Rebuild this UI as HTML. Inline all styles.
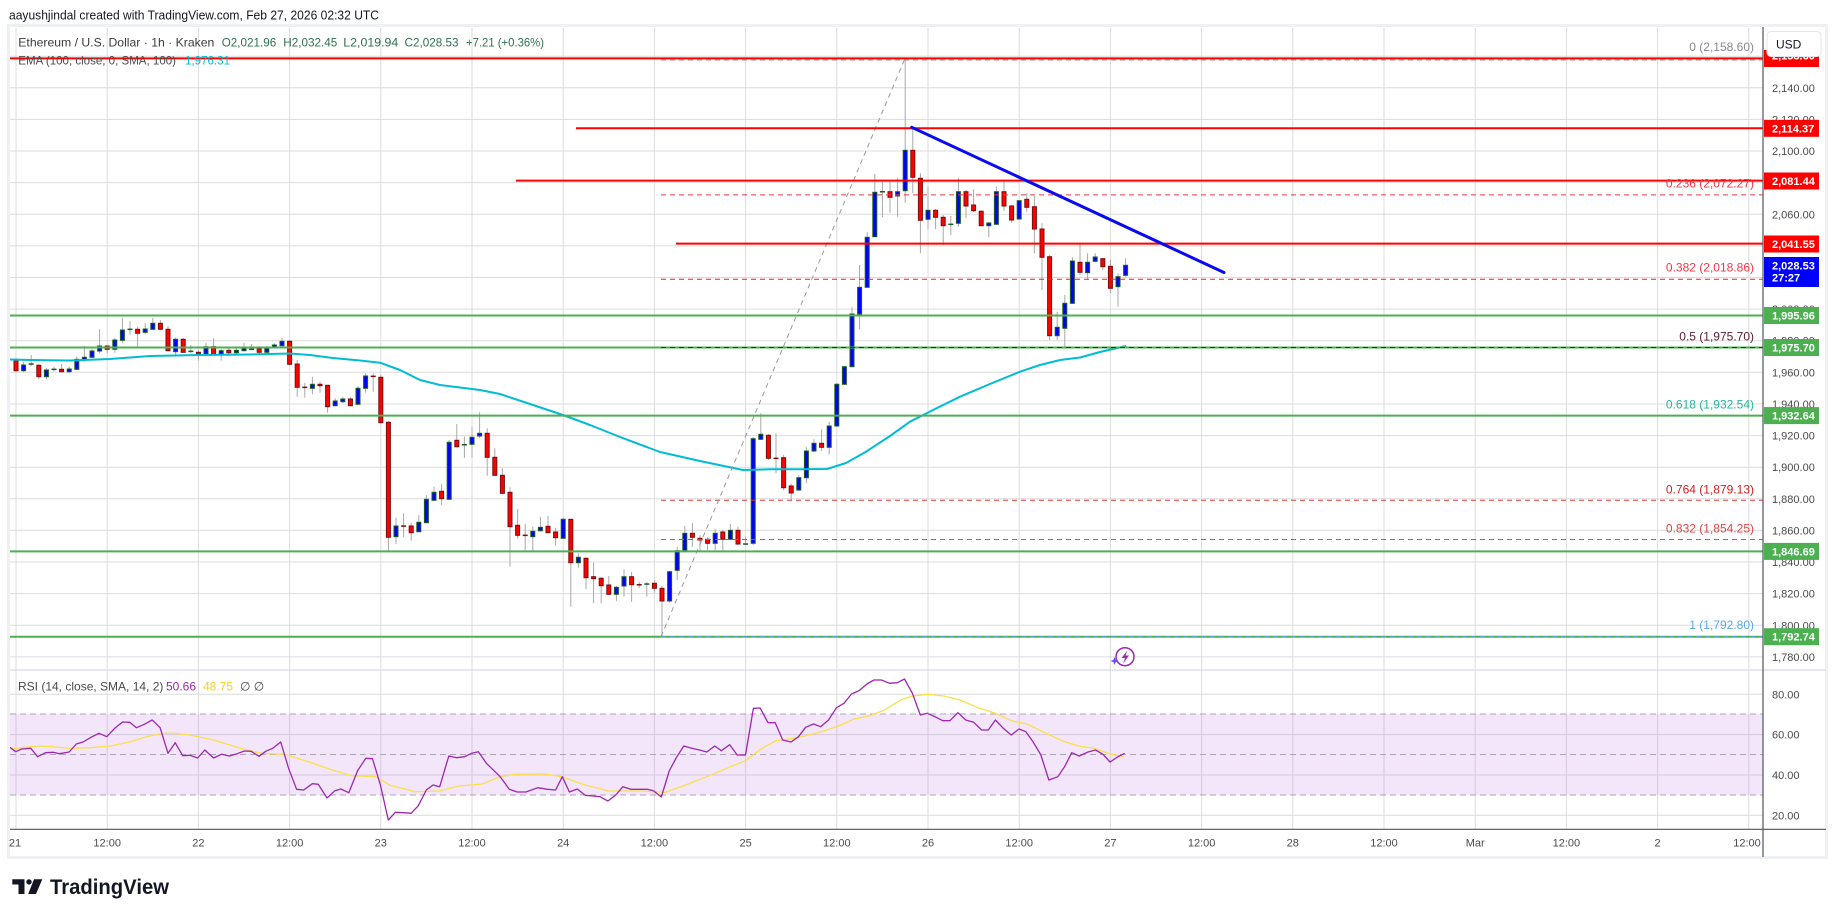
<!DOCTYPE html>
<html><head><meta charset="utf-8"><style>
html,body{margin:0;padding:0;background:#fff;width:1835px;height:917px;overflow:hidden}
svg{display:block}
text{font-family:"Liberation Sans",sans-serif}
</style></head><body>
<svg width="1835" height="917" viewBox="0 0 1835 917" xmlns="http://www.w3.org/2000/svg">
<defs>
<clipPath id="cp"><rect x="10" y="28" width="1753" height="642"/></clipPath>
<clipPath id="cr"><rect x="10" y="670" width="1753" height="159"/></clipPath>
</defs>
<rect width="1835" height="917" fill="#fff"/>
<text x="9" y="19.5" font-size="13" fill="#131722" textLength="370" lengthAdjust="spacingAndGlyphs">aayushjindal created with TradingView.com, Feb 27, 2026 02:32 UTC</text>
<!-- frame -->
<rect x="8.5" y="25.5" width="1818" height="832" fill="#fff" stroke="#eef0f3" stroke-width="3"/>

<!-- vertical grid -->
<g stroke="#dcdcdc" stroke-width="1">
<path d="M16 28V829M107.2 28V829M198.4 28V829M289.6 28V829M380.8 28V829M472 28V829M563.2 28V829M654.4 28V829M745.6 28V829M836.8 28V829M928 28V829M1019.2 28V829M1110.4 28V829M1201.6 28V829M1292.8 28V829M1384 28V829M1475.2 28V829M1566.4 28V829M1657.6 28V829M1748.8 28V829"/>
<path d="M10 56.2H1763M10 87.8H1763M10 119.4H1763M10 151H1763M10 182.6H1763M10 214.3H1763M10 245.9H1763M10 277.5H1763M10 309.1H1763M10 340.7H1763M10 372.3H1763M10 404H1763M10 435.6H1763M10 467.2H1763M10 498.8H1763M10 530.4H1763M10 562H1763M10 593.6H1763M10 625.3H1763M10 656.9H1763"/>
<path d="M10 694.3H1763M10 734.6H1763M10 775H1763M10 815.3H1763"/>
</g>

<!-- RSI pane -->
<line x1="10" y1="670" x2="1826" y2="670" stroke="#ddd8e6" stroke-width="1.2"/>
<rect x="10" y="714" width="1753" height="81" fill="rgba(180,100,230,0.16)"/>
<g stroke="#aba6b4" stroke-width="1" stroke-dasharray="6 4">
<path d="M10 714H1763M10 754.5H1763M10 795H1763"/>
</g>
<g clip-path="url(#cr)" fill="none" stroke-linejoin="round">
<polyline stroke="#fbe04a" stroke-width="1.3" points="9.9,749.3 23.7,747.3 39.5,746 51.4,746.7 71.2,748.3 91,747.7 110.7,746 130.5,741.7 146.3,736.7 162.1,733.3 174,733.3 189.8,735 213.5,740 237.2,747.3 261,753.3 284.7,754.3 308.4,761.7 332.1,770 351.9,775.7 375.6,776.7 389.5,785 415.2,791.7 438.9,791 458.7,786 482.4,784 498.2,777.3 514,774.3 545.7,774 561.5,776.7 585.2,785 608.9,791 639.5,791 665.2,792.3 683,786 706.8,776.7 730.5,766.7 745.5,760.7 762.1,748.3 776,740.7 797.7,737.7 821.4,731.7 841.2,725 853.1,719.3 868.9,716 884.7,710 900.5,700 912.4,696 928.2,694.3 944,696 959.8,700 979.6,708.3 995.4,713.3 1011.2,720.7 1027,724 1042.9,731.7 1062.6,741 1078.4,746 1094.3,748.3 1110.1,754 1123.9,756.7"/>
<polyline stroke="#9c27b0" stroke-width="1.3" points="9.9,747.3 15.8,751.7 21.7,749 30.8,748.3 37.6,756.7 45.5,752.7 53.4,752.3 59.3,753.7 69.2,752 76.3,744 83,742 91,737.3 98.9,733.3 106.8,736.7 114.7,728.3 122.6,722 129.7,722.3 136.4,727.7 144.3,724.3 152.2,720 160.1,727.7 168,753.3 175.2,742.7 182.7,755.7 189.8,755.3 197.7,758 204.8,750 213.5,758 221.4,754.3 229.3,756 237.2,753.7 244.4,751 251.1,751.3 259,756.3 265.7,751.3 272.8,748.3 280.7,742 288.6,768.3 296.6,789.3 303.7,790 312.4,783.7 318.3,784.3 327,798 334.9,790.7 340.8,789 348.8,792.7 357.8,770.3 365.8,758.3 372.5,758.7 380.4,785 388.3,820 395.4,812.3 403.3,812.7 411.2,813.3 418.3,805.7 426.3,790 433,785 439.7,786.7 448.8,756 456.7,757.7 464.6,756.7 471.7,753.3 478.4,751.7 486.4,763.3 500.2,776.7 509.3,789.3 517.2,792 525.9,792 537.8,787.7 547.6,789.3 555.6,790 562.3,776.7 569.4,792 577.3,789 585.2,795.3 593.1,796 600,796.7 607.9,801 615.8,795 622.9,786.7 630.8,789.3 639.5,789.3 647.4,789.3 653.4,790.7 661.3,797 669.2,771 676.3,757.7 683.8,746 691.7,748.3 699.6,750 706.8,752 714.7,746 721.4,750.7 729.7,744.7 737.2,755 745.5,755 753.4,708.3 760.1,708 768,722.7 775.2,722.7 782.7,740 791,742 798.5,736.7 805.6,727.3 813.5,724 820.6,726.7 828.5,720 836.5,707.7 844,703.3 851.5,694 859,690.7 866.9,684 874,680 881.5,680 889.4,683.3 897.4,682.7 904.5,679 912.4,693.3 920.3,715 927.4,713.3 934.9,716.7 942.8,720.7 949.9,720.7 957.9,712.7 965.8,720 973.7,722.3 981.6,730 988.3,730 995.4,720 1003.3,728.3 1011.2,735 1019.1,729 1025.9,731.7 1033,741.7 1040.9,755 1048.8,780 1057.9,776.7 1064.6,766.7 1071.7,752.7 1079.2,756 1087.2,752.3 1095.5,750 1103,754.3 1110.1,762 1118,756.7 1124.7,753.3"/>
</g>
<text x="18" y="690.3" font-size="12" fill="#4a4a4a">RSI (14, close, SMA, 14, 2)</text>
<text x="166" y="690.3" font-size="12" fill="#9c27b0">50.66</text>
<text x="203" y="690.3" font-size="12" fill="#f5d21f">48.75</text>
<text x="240" y="690.3" font-size="12" fill="#4a4a4a">∅  ∅</text>

<!-- price pane -->
<g clip-path="url(#cp)">
<!-- wicks -->
<path fill="none" stroke="#a8a8a8" stroke-width="1" d="M16 358V372M23.6 361.7V372M31.2 355V366M38.8 364V379.3M46.4 368V379.3M54 366.7V371.3M61.6 364V372.7M69.2 366.7V373.3M76.8 356.7V370M84.4 346V361.7M92 349V358M99.6 329.3V353.3M107.2 346V353.3M114.8 338.3V352.7M122.4 317.7V343.3M130 321V334.7M137.6 326.7V346.7M145.2 323.3V334.3M152.8 317.7V330M160.4 320V330M168 326V350.7M175.6 337.7V356.7M183.2 338V353M190.8 345V353.3M198.4 350V360.7M206 342.7V355M213.6 338.3V355M221.2 349V360.7M228.8 348V354M236.4 348V354M244 342.7V351M251.6 344V350M259.2 346V355M266.8 346V355M274.4 343.3V348M282 337.7V346M289.6 340V365M297.2 360V396.7M304.8 382.7V397.7M312.4 376.7V394.3M320 381.7V392.7M327.6 385V412.7M335.2 398.3V406M342.8 397V403M350.4 397.3V406M358 386V405M365.6 373.3V392.7M373.2 373.3V391.7M380.8 375V423M388.4 421V550.7M396 517.7V544M403.6 513.3V537.3M411.2 522.7V540.7M418.8 515V532M426.4 495V523M434 486.7V501M441.6 484V505M449.2 440V500M456.8 424V447.7M464.4 436.7V457.7M472 426.7V457.7M479.6 412.3V438.3M487.2 428.3V475.7M494.8 448.3V476M502.4 468.3V494M510 487.3V566.7M517.6 509V538.7M525.2 524V550.7M532.8 526.7V550.7M540.4 516.7V531.7M548 516V533M555.6 527.7V545.7M563.2 518V539M570.8 519V606.7M578.4 553.3V567.7M586 557V589M593.6 562.7V603.3M601.2 577V603.3M608.8 576V595M616.4 586V601M624 569.3V596.7M631.6 572V601.7M639.2 582V588M646.8 582V596.7M654.4 580V592.7M662 586V636.7M669.6 571V602.7M677.2 546.7V580M684.8 526V551M692.4 523.3V546.7M700 535V551.7M707.6 537V550M715.2 529.3V550M722.8 530V551M730.4 524V540M738 526.7V545M745.6 536.7V545M753.2 437V545M760.8 413.3V440M768.4 434V460M776 433.3V473.3M783.6 455V490M791.2 484V500M798.8 475V491M806.4 447.3V483.3M814 439.3V452M821.6 429.3V451M829.2 421.7V454.3M836.8 383V427M844.4 366V385M852 307.3V367M859.6 265V329.3M867.2 232.3V288M874.8 174V237M882.4 181.7V217.3M890 181.7V212.7M897.6 177.7V216.7M905.2 59V202.7M912.8 129.3V193.3M920.4 173.3V253.3M928 186.7V229.3M935.6 209V229.3M943.2 215V245M950.8 216V235M958.4 177.7V226.7M966 190V218.3M973.6 189.3V212M981.2 210V226M988.8 222V237.3M996.4 186.7V225M1004 179.3V210.7M1011.6 205V222.7M1019.2 200V220M1026.8 193.3V211.7M1034.4 196V253.3M1042 223.3V290M1049.6 255V340M1057.2 311.7V340M1064.8 295V346.7M1072.4 257.3V304M1080 244V275M1087.6 253.3V279.3M1095.2 253.3V262M1102.8 258V270M1110.4 260V293.3M1118 273.3V306.7M1125.6 258.3V276.7"/>
<!-- up bodies -->
<g transform="translate(0.5,0)" fill="#0000ff" stroke="#1b5e20" stroke-width="1">
<rect x="21.1" y="365" width="4" height="5.7"/><rect x="43.9" y="370" width="4" height="6.7"/><rect x="66.7" y="369" width="4" height="2.7"/><rect x="74.3" y="359.3" width="4" height="10"/><rect x="81.9" y="357.3" width="4" height="2.7"/><rect x="89.5" y="351" width="4" height="6.3"/><rect x="97.1" y="346" width="4" height="5"/><rect x="112.3" y="340" width="4" height="9.3"/><rect x="119.9" y="330" width="4" height="10.3"/><rect x="142.7" y="329" width="4" height="3.3"/><rect x="150.3" y="323.3" width="4" height="6"/><rect x="173.1" y="339.3" width="4" height="12.4"/><rect x="203.5" y="346.7" width="4" height="7.6"/><rect x="218.7" y="350.7" width="4" height="3.6"/><rect x="233.9" y="350.3" width="4" height="2.4"/><rect x="241.5" y="348.3" width="4" height="2.4"/><rect x="264.3" y="348.3" width="4" height="4"/><rect x="271.9" y="345" width="4" height="2.3"/><rect x="279.5" y="341.3" width="4" height="4.4"/><rect x="309.9" y="384.3" width="4" height="4"/><rect x="332.7" y="401" width="4" height="4.7"/><rect x="340.3" y="399" width="4" height="2.7"/><rect x="355.5" y="388.3" width="4" height="16"/><rect x="363.1" y="376" width="4" height="12.3"/><rect x="393.5" y="526" width="4" height="10.7"/><rect x="416.3" y="522.3" width="4" height="9.4"/><rect x="423.9" y="499.3" width="4" height="23.4"/><rect x="431.5" y="492.3" width="4" height="8"/><rect x="446.7" y="442.3" width="4" height="57"/><rect x="469.5" y="437.3" width="4" height="7"/><rect x="477.1" y="433.3" width="4" height="2.7"/><rect x="530.3" y="531.3" width="4" height="5.4"/><rect x="537.9" y="527.3" width="4" height="3.4"/><rect x="560.7" y="519.3" width="4" height="19"/><rect x="575.9" y="557.3" width="4" height="5.4"/><rect x="613.9" y="587.3" width="4" height="7"/><rect x="621.5" y="576.7" width="4" height="9.3"/><rect x="667.1" y="571.7" width="4" height="29.3"/><rect x="674.7" y="550.7" width="4" height="19.6"/><rect x="682.3" y="533.3" width="4" height="17.4"/><rect x="712.7" y="533.3" width="4" height="10"/><rect x="727.9" y="530.3" width="4" height="9"/><rect x="750.7" y="438.7" width="4" height="104.6"/><rect x="758.3" y="434.3" width="4" height="5"/><rect x="796.3" y="477.7" width="4" height="12.3"/><rect x="803.9" y="451" width="4" height="26.7"/><rect x="811.5" y="443.3" width="4" height="7.7"/><rect x="826.7" y="426" width="4" height="21.3"/><rect x="834.3" y="384.3" width="4" height="41.7"/><rect x="841.9" y="366.7" width="4" height="17.6"/><rect x="849.5" y="314" width="4" height="52.7"/><rect x="857.1" y="287.3" width="4" height="26.7"/><rect x="864.7" y="237.3" width="4" height="50"/><rect x="872.3" y="192.3" width="4" height="44.4"/><rect x="895.1" y="191.7" width="4" height="4.3"/><rect x="902.7" y="150.3" width="4" height="40.4"/><rect x="925.5" y="210.3" width="4" height="9"/><rect x="955.9" y="191.7" width="4" height="31.6"/><rect x="986.3" y="223" width="4" height="2.7"/><rect x="993.9" y="191.7" width="4" height="32.6"/><rect x="1016.7" y="200.7" width="4" height="18.3"/><rect x="1054.7" y="327.3" width="4" height="8.4"/><rect x="1062.3" y="303.3" width="4" height="25"/><rect x="1069.9" y="261" width="4" height="42.3"/><rect x="1085.1" y="262.3" width="4" height="10.4"/><rect x="1092.7" y="257" width="4" height="4.3"/><rect x="1115.5" y="276.7" width="4" height="10"/><rect x="1123.1" y="265.3" width="4" height="10"/>
</g>
<!-- down bodies -->
<g transform="translate(0.5,0)" fill="#ff0000" stroke="#7a0d0d" stroke-width="1">
<rect x="13.5" y="360" width="4" height="10.7"/><rect x="36.3" y="365.3" width="4" height="11.4"/><rect x="59.1" y="369.3" width="4" height="2.4"/><rect x="104.7" y="346" width="4" height="3.3"/><rect x="135.1" y="329.3" width="4" height="4"/><rect x="157.9" y="323.3" width="4" height="6"/><rect x="165.5" y="329.3" width="4" height="21.4"/><rect x="180.7" y="339.3" width="4" height="13"/><rect x="195.9" y="352.3" width="4" height="2"/><rect x="211.1" y="346.7" width="4" height="7.6"/><rect x="226.3" y="350.3" width="4" height="2.4"/><rect x="256.7" y="348.3" width="4" height="4"/><rect x="287.1" y="341.3" width="4" height="23"/><rect x="294.7" y="364" width="4" height="23.3"/><rect x="317.5" y="384.3" width="4" height="1.4"/><rect x="325.1" y="385.3" width="4" height="21.4"/><rect x="347.9" y="399" width="4" height="6.7"/><rect x="378.3" y="377.3" width="4" height="45.4"/><rect x="385.9" y="422.3" width="4" height="115"/><rect x="408.7" y="526" width="4" height="6.7"/><rect x="439.1" y="491.3" width="4" height="7.4"/><rect x="454.3" y="440.3" width="4" height="6.4"/><rect x="484.7" y="433.3" width="4" height="24"/><rect x="492.3" y="457.3" width="4" height="18"/><rect x="499.9" y="475.3" width="4" height="18"/><rect x="507.5" y="492.3" width="4" height="34.4"/><rect x="515.1" y="525.3" width="4" height="10"/><rect x="545.5" y="526.3" width="4" height="6.4"/><rect x="553.1" y="532" width="4" height="5.7"/><rect x="568.3" y="519.3" width="4" height="43.4"/><rect x="583.5" y="558.3" width="4" height="19.4"/><rect x="591.1" y="576.7" width="4" height="2"/><rect x="598.7" y="578.3" width="4" height="7.4"/><rect x="606.3" y="585" width="4" height="9.3"/><rect x="629.1" y="576.7" width="4" height="8"/><rect x="651.9" y="583.3" width="4" height="5"/><rect x="659.5" y="588.3" width="4" height="12.7"/><rect x="689.9" y="533.3" width="4" height="4"/><rect x="697.5" y="538.3" width="4" height="1.7"/><rect x="705.1" y="539.3" width="4" height="4"/><rect x="720.3" y="532" width="4" height="7.3"/><rect x="735.5" y="530.3" width="4" height="13.7"/><rect x="765.9" y="435.3" width="4" height="23"/><rect x="781.1" y="457.7" width="4" height="30"/><rect x="788.7" y="486" width="4" height="7"/><rect x="819.1" y="443.3" width="4" height="4"/><rect x="887.5" y="191.7" width="4" height="5.6"/><rect x="910.3" y="150.3" width="4" height="27"/><rect x="917.9" y="178.3" width="4" height="42"/><rect x="933.1" y="210.3" width="4" height="7"/><rect x="940.7" y="217.3" width="4" height="8.4"/><rect x="963.5" y="191.7" width="4" height="14.3"/><rect x="971.1" y="205" width="4" height="5.7"/><rect x="978.7" y="211.3" width="4" height="14.4"/><rect x="1001.5" y="191.7" width="4" height="14.3"/><rect x="1009.1" y="206" width="4" height="14"/><rect x="1024.3" y="199.3" width="4" height="8"/><rect x="1031.9" y="206.7" width="4" height="22.3"/><rect x="1039.5" y="229" width="4" height="28.3"/><rect x="1047.1" y="256.7" width="4" height="79"/><rect x="1077.5" y="262.3" width="4" height="10"/><rect x="1100.3" y="258.7" width="4" height="8"/><rect x="1107.9" y="266.3" width="4" height="22"/>
</g>
<!-- dojis -->
<g fill="#1b5e20">
<rect x="28.7" y="363.3" width="5" height="1.5"/><rect x="51.5" y="368.6" width="5" height="1.5"/><rect x="127.5" y="328.6" width="5" height="1.5"/><rect x="188.3" y="350.6" width="5" height="1.5"/><rect x="249.1" y="348.6" width="5" height="1.5"/><rect x="461.9" y="444" width="5" height="1.5"/><rect x="644.3" y="583.3" width="5" height="1.5"/><rect x="743.1" y="543.3" width="5" height="1.5"/><rect x="879.9" y="191" width="5" height="1.5"/><rect x="948.3" y="223.6" width="5" height="1.5"/>
</g>
<g fill="#7a0d0d">
<rect x="302.3" y="386.6" width="5" height="1.5"/><rect x="370.7" y="375.6" width="5" height="1.5"/><rect x="401.1" y="525.3" width="5" height="1.5"/><rect x="522.7" y="534.6" width="5" height="1.5"/><rect x="636.7" y="584" width="5" height="1.5"/><rect x="773.5" y="457.6" width="5" height="1.5"/>
</g>
<!-- EMA -->
<polyline fill="none" stroke="#00bcd4" stroke-width="2" stroke-linejoin="round" points="10,359.5 30,360 70,360.5 110,359 150,356 200,355 250,354.5 290,353.5 310,355 333,358 360,360.5 380,362.7 400,370 420,380 440,385 480,390 500,394 530,404 563,415 590,425 620,437 660,452 700,461 743,470 770,469.3 800,469.3 827,469 846,463 866,451.7 890,436 910,421.7 935,409 960,396.7 990,384 1020,371.7 1040,365 1060,360 1080,357.5 1100,352 1126,346"/>
<!-- fib lines -->
<g fill="none" stroke-width="1" stroke-dasharray="5 4">
<path stroke="#9a9a9a" d="M661 60H1763"/>
<path stroke="#f23645" d="M661 194.9H1763"/>
<path stroke="#ff1a1a" d="M661 279.3H1763"/>
<path stroke="#e53935" d="M661 500.2H1763"/>
<path stroke="#ef4444" d="M661 539.5H1763"/>
<path stroke="#9a9a9a" d="M661 636.6L905 58.4"/>
</g>
<!-- horizontal drawings -->
<g fill="none" stroke-width="2">
<path stroke="#ff0000" d="M10 58.4H1763M576 128.3H1763M516 180.6H1763M676 243.6H1763"/>
<path stroke="#4caf50" d="M10 315.5H1763M10 347.5H1763M10 415.6H1763M10 551.4H1763M10 636.7H1763"/>
</g>
<g fill="none" stroke-width="1" stroke-dasharray="5 4">
<path stroke="#5d1d2e" d="M661 347.5H1763"/>
<path stroke="#5aa9e6" d="M661 636.7H1763"/>
</g>
<line x1="911.7" y1="127.3" x2="1224" y2="272.5" stroke="#0a0af0" stroke-width="3" stroke-linecap="round"/>
<!-- fib labels -->
<g font-size="12" text-anchor="end">
<text x="1754" y="51" fill="#8a8a8a">0 (2,158.60)</text>
<text x="1754" y="187.6" fill="#f23645">0.236 (2,072.27)</text>
<text x="1754" y="271.6" fill="#f23645">0.382 (2,018.86)</text>
<text x="1754" y="340.3" fill="#5d1d2e">0.5 (1,975.70)</text>
<text x="1754" y="408.3" fill="#26b59a">0.618 (1,932.54)</text>
<text x="1754" y="493.6" fill="#d81b1b">0.764 (1,879.13)</text>
<text x="1754" y="532.3" fill="#e04444">0.832 (1,854.25)</text>
<text x="1754" y="629" fill="#5aa9e6">1 (1,792.80)</text>
</g>
<!-- lightning icon -->
<circle cx="1125" cy="656.7" r="9" fill="#fff" stroke="#9c27b0" stroke-width="1.5"/>
<polygon points="1127.5,650.5 1121.5,658 1125,658 1123,663.5 1129,655.5 1125.5,655.5" fill="#9c27b0"/>
<path d="M1114.5 657L1115.6 659.9 1118.5 661 1115.6 662.1 1114.5 665 1113.4 662.1 1110.5 661 1113.4 659.9Z" fill="#6a4dff"/>
</g>

<!-- legends -->
<g font-size="12">
<text x="18.3" y="46.5" fill="#3b3b3b" textLength="196" lengthAdjust="spacingAndGlyphs">Ethereum / U.S. Dollar · 1h · Kraken</text>
<text x="221.7" y="46.5" fill="#2f6f4f" textLength="54.5" lengthAdjust="spacingAndGlyphs">O2,021.96</text>
<text x="283.3" y="46.5" fill="#2f6f4f" textLength="54" lengthAdjust="spacingAndGlyphs">H2,032.45</text>
<text x="343.3" y="46.5" fill="#2f6f4f" textLength="55" lengthAdjust="spacingAndGlyphs">L2,019.94</text>
<text x="404.5" y="46.5" fill="#2f6f4f" textLength="54" lengthAdjust="spacingAndGlyphs">C2,028.53</text>
<text x="466" y="46.5" fill="#2f6f4f" textLength="78" lengthAdjust="spacingAndGlyphs">+7.21 (+0.36%)</text>
<text x="18.3" y="64.3" fill="#4a4a4a" textLength="157.7" lengthAdjust="spacingAndGlyphs">EMA (100, close, 0, SMA, 100)</text>
<text x="185" y="64.3" fill="#00bcd4" textLength="45" lengthAdjust="spacingAndGlyphs">1,976.31</text>
</g>

<!-- axes lines -->
<line x1="10" y1="829.3" x2="1826" y2="829.3" stroke="#50535e" stroke-width="1.2"/>
<line x1="1763" y1="27" x2="1763" y2="857" stroke="#50535e" stroke-width="1.2"/>

<!-- time labels -->
<g font-size="11" fill="#4a4a4a" text-anchor="middle">
<text x="15" y="846.7">21</text><text x="107.2" y="846.7">12:00</text><text x="198.4" y="846.7">22</text><text x="289.6" y="846.7">12:00</text><text x="380.8" y="846.7">23</text><text x="472" y="846.7">12:00</text><text x="563.2" y="846.7">24</text><text x="654.4" y="846.7">12:00</text><text x="745.6" y="846.7">25</text><text x="836.8" y="846.7">12:00</text><text x="928" y="846.7">26</text><text x="1019.2" y="846.7">12:00</text><text x="1110.4" y="846.7">27</text><text x="1201.6" y="846.7">12:00</text><text x="1292.8" y="846.7">28</text><text x="1384" y="846.7">12:00</text><text x="1475.2" y="846.7">Mar</text><text x="1566.4" y="846.7">12:00</text><text x="1657.6" y="846.7">2</text><text x="1747" y="846.7">12:00</text>
</g>

<!-- price axis labels -->
<g font-size="11" fill="#4a4a4a">
<text x="1772" y="91.8">2,140.00</text><text x="1772" y="123.4">2,120.00</text><text x="1772" y="155">2,100.00</text><text x="1772" y="186.6">2,080.00</text><text x="1772" y="218.3">2,060.00</text><text x="1772" y="249.9">2,040.00</text><text x="1772" y="313.1">2,000.00</text><text x="1772" y="344.7">1,980.00</text><text x="1772" y="376.3">1,960.00</text><text x="1772" y="408">1,940.00</text><text x="1772" y="439.6">1,920.00</text><text x="1772" y="471.2">1,900.00</text><text x="1772" y="502.8">1,880.00</text><text x="1772" y="534.4">1,860.00</text><text x="1772" y="566">1,840.00</text><text x="1772" y="597.6">1,820.00</text><text x="1772" y="629.3">1,800.00</text><text x="1772" y="660.9">1,780.00</text>
<text x="1772" y="698.3">80.00</text><text x="1772" y="738.6">60.00</text><text x="1772" y="779">40.00</text><text x="1772" y="819.3">20.00</text>
</g>

<!-- price axis boxes -->
<g font-size="11" font-weight="bold" fill="#fff">
<rect x="1764" y="50" width="55" height="17" fill="#ff0000"/><text x="1772" y="59.5">2,158.60</text>
<rect x="1764" y="119.8" width="55" height="17" fill="#ff0000"/><text x="1772" y="132.3">2,114.37</text>
<rect x="1764" y="172.5" width="55" height="17" fill="#ff0000"/><text x="1772" y="185">2,081.44</text>
<rect x="1764" y="235.5" width="55" height="17" fill="#ff0000"/><text x="1772" y="248">2,041.55</text>
<rect x="1764" y="257" width="55" height="30" fill="#0000ff"/><text x="1772" y="269.7">2,028.53</text><text x="1772" y="281.5">27:27</text>
<rect x="1764" y="307" width="55" height="17" fill="#4caf50"/><text x="1772" y="319.5">1,995.96</text>
<rect x="1764" y="339" width="55" height="17" fill="#4caf50"/><text x="1772" y="351.5">1,975.70</text>
<rect x="1764" y="407.1" width="55" height="17" fill="#4caf50"/><text x="1772" y="419.6">1,932.64</text>
<rect x="1764" y="542.9" width="55" height="17" fill="#4caf50"/><text x="1772" y="555.4">1,846.69</text>
<rect x="1764" y="628.2" width="55" height="17" fill="#4caf50"/><text x="1772" y="640.7">1,792.74</text>
</g>
<rect x="1767" y="31.5" width="54" height="25" rx="4" fill="#fff" stroke="#e3e5ea"/>
<text x="1776" y="48.5" font-size="12" fill="#131722">USD</text>

<!-- logo -->
<g fill="#131722">
<path d="M12.3 879.3H24.5V894H18.5V884.5H12.3Z"/>
<circle cx="29" cy="881.9" r="2.7"/>
<path d="M34 879.3H42.3L36 894H28.2Z"/>
</g>
<text x="50" y="894" font-size="21" font-weight="bold" fill="#131722" textLength="119" lengthAdjust="spacingAndGlyphs">TradingView</text>
</svg>
</body></html>
